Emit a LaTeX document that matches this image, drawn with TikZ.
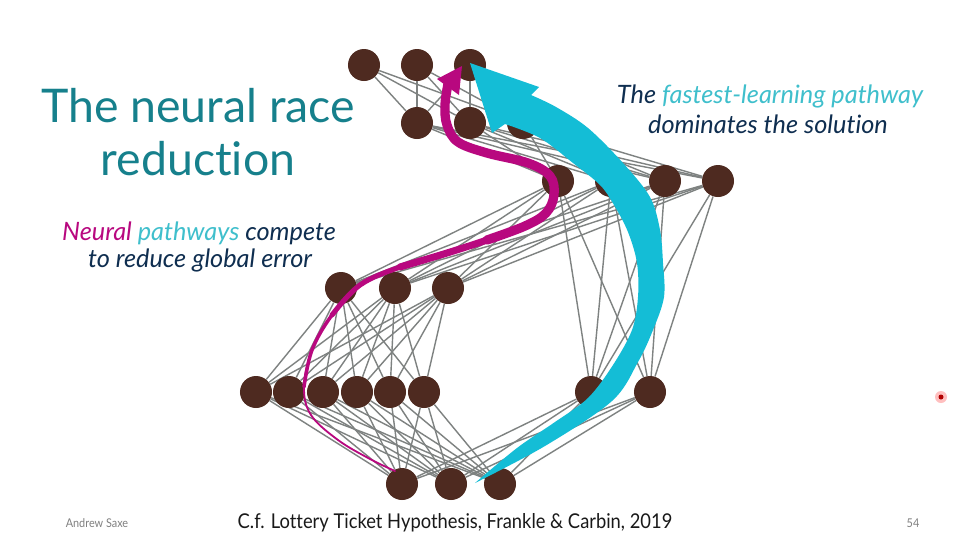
\documentclass[tikz,border=0pt]{standalone}
\usepackage{fontspec}
\setmainfont{Lato}[Ligatures=NoCommon]
\newfontfamily\footfont[FakeStretch=0.9,Ligatures=NoCommon]{Lato}
\usetikzlibrary{backgrounds}
\definecolor{headteal}{HTML}{16808C}
\definecolor{deep}{HTML}{0F2E50}
\definecolor{magen}{HTML}{B8087F}
\definecolor{sky}{HTML}{3FBFCC}
\definecolor{fast}{HTML}{14BDD6}
\definecolor{soma}{HTML}{4E2A20}
\definecolor{wire}{HTML}{7E8281}
\tikzset{neuron/.style={circle,fill=soma,minimum size=8mm,inner sep=0pt},syn/.style={draw=wire,line width=1pt},slow/.style={draw=magen,line cap=round,line join=round},lbl/.style={anchor=base,inner sep=0pt}}

\begin{document}
\begin{tikzpicture}[x=0.025cm,y=-0.025cm]
\useasboundingbox (0,0) rectangle (976,549);
\node[neuron](a1)at(364,65){};\node[neuron](a2)at(417,65){};\node[neuron](a3)at(470,65){};
\node[neuron](b1)at(417,123){};\node[neuron](b2)at(470,123){};\node[neuron](b3)at(523,123){};
\node[neuron](c1)at(558,181){};\node[neuron](c2)at(611,181){};\node[neuron](c3)at(665,181){};\node[neuron](c4)at(718,181){};
\node[neuron](d1)at(341,288){};\node[neuron](d2)at(395,288){};\node[neuron](d3)at(448,288){};
\node[neuron](e1)at(256,392){};\node[neuron](e2)at(289,392){};\node[neuron](e3)at(323,392){};\node[neuron](e4)at(357,392){};
\node[neuron](e5)at(390,392){};\node[neuron](e6)at(424,392){};\node[neuron](e7)at(591,392){};\node[neuron](e8)at(650,392){};
\node[neuron](f1)at(402,484){};\node[neuron](f2)at(451,484){};\node[neuron](f3)at(500,484){};
\begin{scope}[on background layer]
\fill[white](0,0)rectangle(976,549);
\foreach \i in {1,2,3}{\foreach \j in {1,...,8}{\draw[syn](f\i)--(e\j);}}
\foreach \i in {1,...,6}{\foreach \j in {1,2,3}{\draw[syn](e\i)--(d\j);}}
\foreach \i in {7,8}{\foreach \j in {1,...,4}{\draw[syn](e\i)--(c\j);}}
\foreach \i in {1,2,3}{\foreach \j in {1,...,4}{\draw[syn](d\i)--(c\j);}}
\foreach \i in {1,...,4}{\foreach \j in {1,2,3}{\draw[syn](c\i)--(b\j);}}
\foreach \i in {1,2,3}{\foreach \j in {1,2,3}{\draw[syn](b\i)--(a\j);}}
\end{scope}
\draw[slow,line width=1.3pt]plot[smooth,tension=.6]coordinates{(448,84)(445,105)(447,125)(458,142)(487,153)(528,163)(550,176)(554,195)(546,213)(525,226)(487,240)(447,253)(400,267)(360,285)(332,315)(312,350)(304,387)(311,415)(338,440)(370,459)(395,471)};
\draw[slow,line width=2.5pt]plot[smooth,tension=.6]coordinates{(448,84)(445,105)(447,125)(458,142)(487,153)(528,163)(550,176)(554,195)(546,213)(525,226)(487,240)(447,253)(400,267)(360,285)(332,315)(312,350)(304,387)};
\draw[slow,line width=3.6pt]plot[smooth,tension=.6]coordinates{(448,84)(445,105)(447,125)(458,142)(487,153)(528,163)(550,176)(554,195)(546,213)(525,226)(487,240)(447,253)(400,267)(360,285)(332,315)};
\draw[slow,line width=5pt]plot[smooth,tension=.6]coordinates{(448,84)(445,105)(447,125)(458,142)(487,153)(528,163)(550,176)(554,195)(546,213)(525,226)(487,240)(447,253)(400,267)};
\draw[slow,line width=6.6pt]plot[smooth,tension=.6]coordinates{(448,84)(445,105)(447,125)(458,142)(487,153)(528,163)(550,176)(554,195)(546,213)(525,226)(487,240)};
\fill[magen](462,66)--(437,79)--(459,95)--cycle;
\fill[fast]plot[smooth,tension=.55]coordinates{(475,483)(545,446)(612,401)(638,362)(653,330)(664,297)(663,263)(660,230)(650,197)(623,163)(588,128)(556,107)(531,95)}--(539,87)--(470,63)--(492,133)--plot[smooth,tension=.55]coordinates{(505,124)(540,138)(573,163)(600,185)(614,205)(628,232)(637,263)(638,297)(632,330)(613,365)(588,398)(555,422)(517,448)(475,483)}--cycle;
\node[lbl,text=headteal,font=\fontsize{33}{40}\selectfont](t1)at(198,122){The neural race};
\node[lbl,text=headteal,font=\fontsize{33}{40}\selectfont](t2)at(198,175){reduction};
\node[lbl,text=deep,font=\fontsize{18}{22}\selectfont\itshape](s1)at(199,240){\textcolor{magen}{Neural} \textcolor{sky}{pathways} compete};
\node[lbl,text=deep,font=\fontsize{18}{22}\selectfont\itshape](s2)at(200,267){to reduce global error};
\node[lbl,text=deep,font=\fontsize{18}{22}\selectfont\itshape](r1)at(770,103){The \textcolor{sky}{fastest-learning pathway}};
\node[lbl,text=deep,font=\fontsize{18}{22}\selectfont\itshape](r2)at(768,133){dominates the solution};
\node[lbl,text=black!90,font=\footfont\fontsize{14.5}{17}\selectfont](cite)at(455,528){C.f. Lottery Ticket Hypothesis, Frankle \& Carbin, 2019};
\node[lbl,text=black!50,font=\footfont\fontsize{8.6}{10}\selectfont](auth)at(97,527){Andrew Saxe};
\node[lbl,text=black!50,font=\footfont\fontsize{8.6}{10}\selectfont](page)at(913,527){54};
\fill[red!25](941,397)circle(6);\fill[red!70!black](941,397)circle(2.5);
\end{tikzpicture}
\end{document}
